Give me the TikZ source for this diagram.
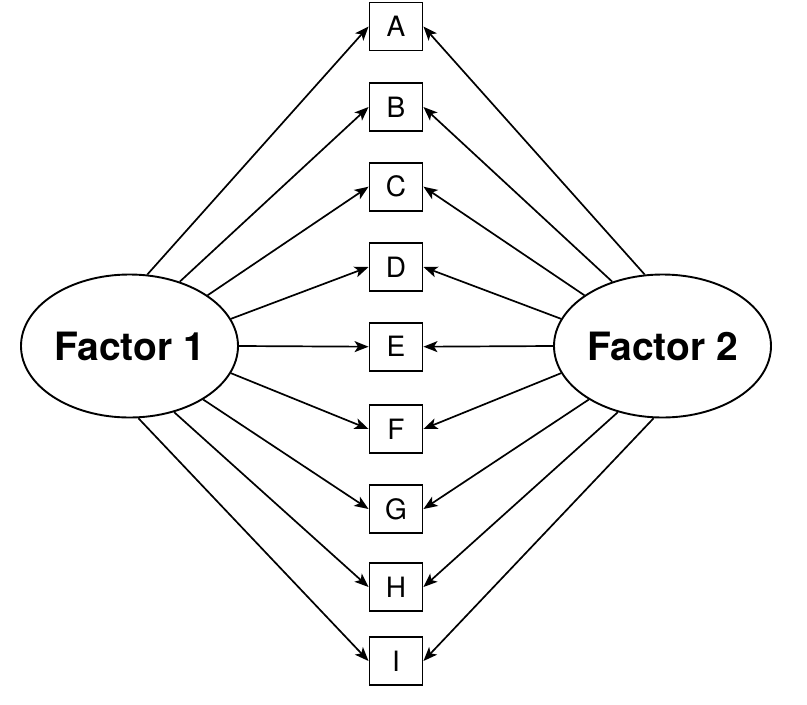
\documentclass[tikz,border=0pt]{standalone}
\usepackage{fontspec}
\setmainfont{TeX Gyre Heros}
\usetikzlibrary{arrows.meta,shapes.geometric}

\begin{document}
\begin{tikzpicture}[x=1pt,y=-1pt,
  item/.style={draw,line width=1.9pt,minimum width=53pt,minimum height=48pt,inner sep=0pt,font=\fontsize{28}{30}\selectfont},
  factor/.style={draw,ellipse,line width=1.9pt,minimum width=217pt,minimum height=143pt,inner sep=0pt,font=\fontsize{39}{40}\selectfont\bfseries},
  load/.style={-{Stealth[length=14pt,width=11pt,inset=3.5pt]},line width=1.7pt}]
\useasboundingbox (0,0) rectangle (807,705);
\node[factor] (f1) at (129.5,346) {Factor 1};
\node[factor] (f2) at (662.5,346) {Factor 2};
\foreach \name/\y in {A/26.5,B/107,C/186.7,D/267,E/346.7,F/429,G/509,H/587,I/661}
  \node[item] (\name) at (396,\y) {\name};
\foreach \name/\a [evaluate=\a as \b using 180-\a] in {A/76,B/52,C/33,D/15,E/0,F/-15,G/-36,H/-56,I/-83}{
  \draw[load] (f1.\a) -- (\name.west);
  \draw[load] (f2.\b) -- (\name.east);
}
\end{tikzpicture}
\end{document}
